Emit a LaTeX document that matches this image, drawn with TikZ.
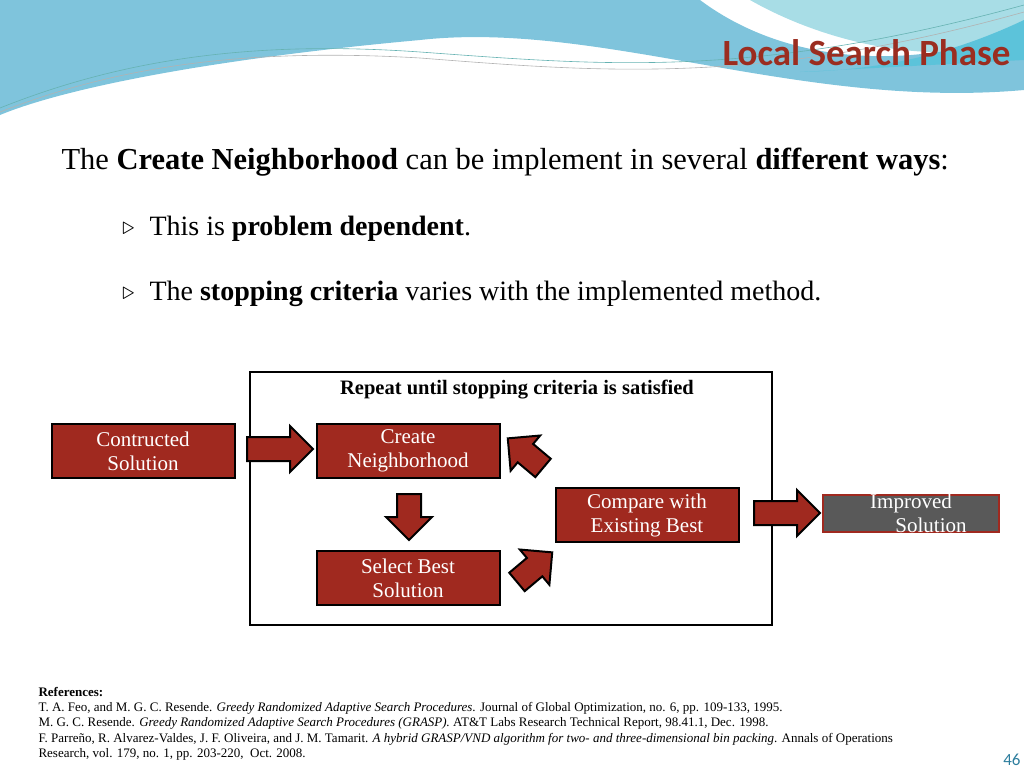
\documentclass[tikz,border=0pt]{standalone}
\usepackage{fontspec}
\setmainfont{Liberation Serif}
\newfontfamily\titlefont{Carlito}
\usetikzlibrary{shapes.arrows}
\definecolor{boxred}{HTML}{A0291F}
\definecolor{titlered}{HTML}{9B2D20}
\definecolor{skyA}{HTML}{7FC4DC}
\definecolor{skyB}{HTML}{A8DDE6}
\definecolor{skyC}{HTML}{5CC3DA}
\definecolor{pagenum}{HTML}{2E7E9E}
\tikzset{
  stepbox/.style={draw=black, line width=2pt, fill=boxred, text=white, minimum width=183pt, minimum height=54pt, align=center, font=\fontsize{21}{24}\selectfont},
  blockarrow/.style={single arrow, draw=black, line width=2pt, fill=boxred, minimum width=44pt, single arrow head extend=11pt, minimum height=66pt, inner xsep=0pt, inner ysep=11pt, text height=0pt, text depth=0pt},
  bullet/.style={anchor=west, font=\fontsize{28}{30}\selectfont},
  refline/.style={anchor=west, font=\fontsize{13}{15}\selectfont}
}
\begin{document}
\begin{tikzpicture}[x=1pt,y=-1pt]
\useasboundingbox (0,0) rectangle (1024,768);
% background swoosh
\fill[skyA] (0,0) -- (700,0) .. controls (780,60) and (900,75) .. (1024,30) -- (1024,90) .. controls (800,110) and (600,20) .. (420,40) .. controls (200,60) and (60,90) .. (0,115) -- cycle;
\fill[skyB] (750,0) -- (1024,0) -- (1024,40) .. controls (930,70) and (820,40) .. (750,0) -- cycle;
\fill[skyC] (1024,20) .. controls (950,55) and (880,70) .. (800,72) -- (1024,60) -- cycle;
\draw[teal!60, line width=0.6pt] (0,108) .. controls (120,60) and (250,40) .. (420,52) .. controls (600,65) and (750,80) .. (1024,5);
\draw[gray!60, line width=0.6pt] (0,112) .. controls (120,65) and (250,48) .. (420,58) .. controls (600,72) and (760,86) .. (1024,12);
\node[anchor=east, text=titlered, font=\titlefont\bfseries\fontsize{37}{40}\selectfont] (title) at (1014,53) {Local Search Phase};
% text
\node[bullet, font=\fontsize{30.5}{32}\selectfont] (intro) at (58,162) {The \textbf{Create Neighborhood} can be implement in several \textbf{different ways}:};
\node[bullet] (b1) at (146,229) {This is \textbf{problem dependent}.};
\node[bullet] (b2) at (146,294) {The \textbf{stopping criteria} varies with the implemented method.};
\node[anchor=east, font=\fontsize{26}{28}\selectfont] (m1) at (138,229) {\(\triangleright\)};
\node[anchor=east, font=\fontsize{26}{28}\selectfont] (m2) at (138,294) {\(\triangleright\)};
% loop frame
\draw[line width=2pt] (250,372) rectangle (772,625);
\node[font=\bfseries\fontsize{20.5}{24}\selectfont] (repeat) at (517,390) {Repeat until stopping criteria is satisfied};
% boxes
\node[stepbox] (built) at (143,451) {Contructed\\Solution};
\node[stepbox] (create) at (408,451) {Create\\Neighborhood};
\node[stepbox] (compare) at (647,515) {Compare with\\Existing Best};
\node[stepbox] (select) at (408,578) {Select Best\\Solution};
\node[stepbox, fill=black!65, draw=boxred, minimum width=176pt, minimum height=37pt] (improved) at (911,513) {};
\node[text=white, align=center, font=\fontsize{21}{24}\selectfont] (improvedtext) at (improved) {Improved\\ \hspace*{40pt}Solution};
% block arrows
\node[blockarrow] (a1) at (274,449) {};
\node[blockarrow, rotate=-90, minimum height=46pt] (a2) at (409,511) {};
\node[blockarrow, rotate=140, minimum height=46pt] (a3) at (530,457) {};
\node[blockarrow, rotate=40, minimum height=46pt] (a4) at (530,571) {};
\node[blockarrow] (a5) at (781,513) {};
% references
\node[refline, font=\bfseries\fontsize{13}{15}\selectfont] (r0) at (35,692) {References:};
\node[refline] (r1) at (35,708) {T. A. Feo, and M. G. C. Resende. \textit{Greedy Randomized Adaptive Search Procedures}. Journal of Global Optimization, no. 6, pp. 109-133, 1995.};
\node[refline] (r2) at (35,723) {M. G. C. Resende. \textit{Greedy Randomized Adaptive Search Procedures (GRASP).} AT\&T Labs Research Technical Report, 98.41.1, Dec. 1998.};
\node[refline] (r3) at (35,739) {F. Parreño, R. Alvarez-Valdes, J. F. Oliveira, and J. M. Tamarit. \textit{A hybrid GRASP/VND algorithm for two- and three-dimensional bin packing}. Annals of Operations};
\node[refline] (r4) at (35,754) {Research, vol. 179, no. 1, pp. 203-220,\ \ Oct. 2008.};
\node[anchor=east, text=pagenum, font=\titlefont\fontsize{17}{18}\selectfont] (page) at (1024,760) {46};
\end{tikzpicture}
\end{document}
